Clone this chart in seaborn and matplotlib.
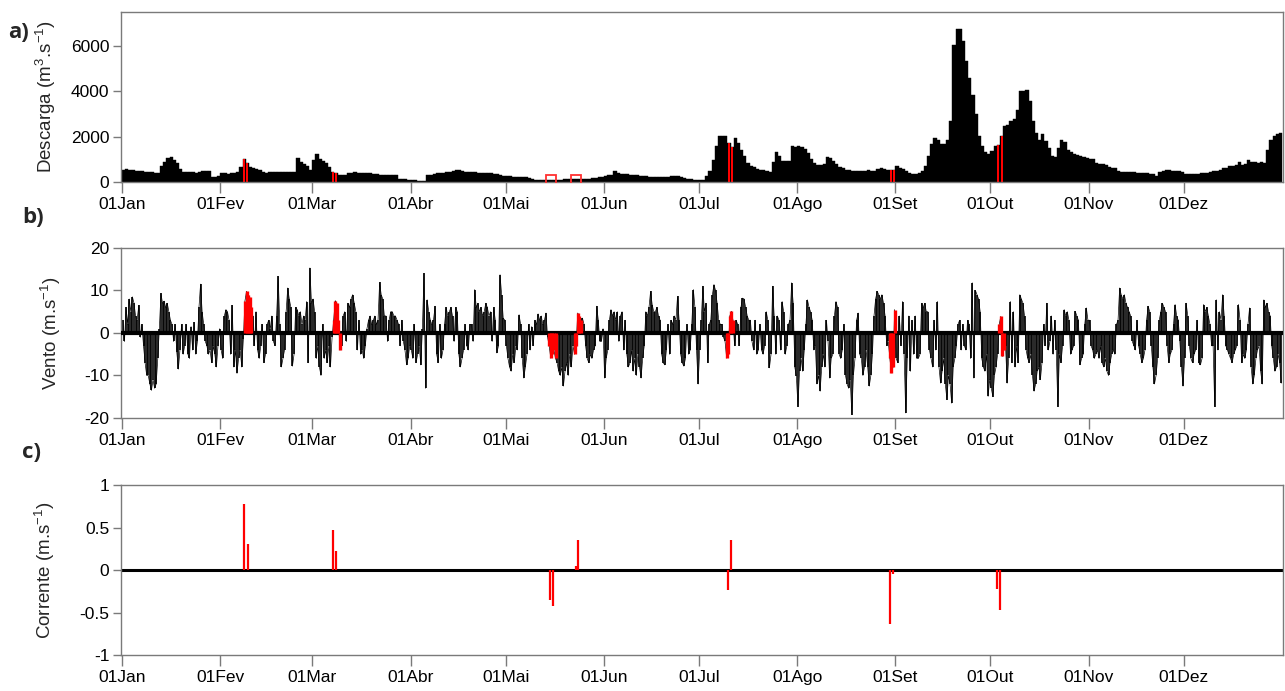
import numpy as np
import pandas as pd
import matplotlib
matplotlib.use("Agg")
import matplotlib.pyplot as plt
import seaborn as sns

# ---------------- data ----------------
month_ticks = [0, 31, 60, 91, 121, 152, 182, 213, 244, 274, 305, 335]
month_labels = ['01Jan', '01Fev', '01Mar', '01Abr', '01Mai', '01Jun',
                '01Jul', '01Ago', '01Set', '01Out', '01Nov', '01Dez']

# daily discharge (m3/s), day 0 = 01Jan
discharge = [
    530, 560, 540, 520, 500, 480, 465, 450, 435, 420, 400, 380, 700, 880, 1040, 1110,
    970, 820, 570, 460, 455, 440, 420, 415, 430, 470, 480, 470, 240, 240, 250,
    380, 380, 370, 400, 410, 420, 680, 1000, 820, 680, 600, 560, 540, 420, 400, 420,
    430, 430, 440, 440, 440, 450, 450, 440, 1070, 880, 780, 700, 530,
    970, 1220, 1000, 940, 820, 680, 455, 380, 310, 310, 320, 400, 410, 420, 410, 400,
    380, 390, 380, 370, 360, 330, 320, 320, 310, 300, 290, 150, 130, 120, 110,
    80, 70, 50, 45, 45, 300, 330, 360, 380, 390, 400, 420, 460, 500, 530, 510, 470,
    440, 430, 420, 420, 410, 400, 390, 380, 380, 370, 360, 330, 280,
    260, 250, 240, 230, 220, 210, 200, 190, 130, 80, 75, 75, 80, 90, 100, 100, 110,
    110, 120, 130, 130, 130, 140, 150, 150, 150, 150, 160, 180, 210, 230,
    280, 290, 300, 470, 380, 370, 360, 350, 320, 300, 290, 280, 270, 250, 220, 210,
    205, 210, 220, 230, 240, 250, 260, 250, 200, 170, 150, 140, 110, 100,
    100, 110, 250, 470, 985, 1570, 2010, 2040, 2040, 1700, 1530, 1940, 1720, 1420,
    1130, 840, 720, 650, 590, 545, 515, 485, 455, 870, 1310, 1140, 910, 910, 910, 1610, 1560,
    1580, 1540, 1470, 1280, 1000, 860, 760, 740, 800, 1100, 1080, 920, 780, 650, 600,
    540, 510, 500, 490, 480, 500, 490, 510, 500, 490, 560, 620, 560, 540, 515, 515,
    720, 640, 560, 470, 400, 370, 370, 380, 470, 690, 1160, 1690, 1940, 1840, 1690,
    1690, 1840, 2675, 6060, 6750, 6750, 6200, 5320, 4590, 3850, 3000, 2010, 1570, 1310, 1250,
    1350, 1570, 1650, 2010, 2450, 2530, 2675, 2780, 3190, 4000, 4000, 4070, 3560, 2675,
    2160, 1870, 2130, 1790, 1500, 1130, 1100, 1500, 1870, 1750, 1430, 1310, 1235, 1175,
    1130, 1090, 1060,
    1015, 1015, 840, 795, 795, 735, 650, 617, 600, 500, 440, 440, 425, 425, 420, 400,
    400, 380, 380, 350, 340, 280, 425, 500, 545, 520, 470, 500, 480, 440,
    370, 370, 350, 350, 350, 380, 380, 400, 425, 470, 470, 545, 617, 617, 690, 720,
    765, 865, 765, 810, 985, 865, 865, 840, 865, 840, 1400, 1840, 2010, 2130, 2160,
]
discharge_red_days = [38, 39, 66, 67, 191, 192, 242, 243, 276, 277]
square_days = [135.4, 143.1]
square_values = [80, 80]

# wind (m/s), two readings per day (morning, afternoon)
wind = [
    3, -2, 6, 2, 8, 5, 8.5, 7, 4, 3, 6.5, -1, 2, -3, -7, -10, -10, -12, -13.5, -11,
    -13, -12, -6, 1, 9.3, 7, 7.5, 6, 7, 5, 3, 2, -2, 2, -4.5, -8.5, -4, 2, -5, -3,
    2, -5, -6, 1.5, -4, 2.5, -5, -2, 6, 11.5, 5, 2, -2, -3, -5, -4, -7, -3, -5, -8,
    -3, 1,
    -4, -6, 4, 5.5, 5, 3, -5, 6.5, -8, -4, -9.5, -6, -4, -8, -1.5, 7.5, 9.8, 9,
    8.5, 6, 4, -3, 5, -4, -6, -3, 2, -7, -5, 2, 3, 1, 4, -2, -3, 4, 13.3, 2,
    -8, -6, -4, 5, 10.6, 8, 6, -7.8, -5, 6, 5.5, 4, 5, 2, 4, 3, 7.4, -7, 15.3, 7,
    8, 5, -6, -3, -8, -10, 2, -6, -4, -7, -3, -8, -1, 3, 7.6, 7, 3, -4, -3, 4,
    5, -2, 7, 6, 8, 9, 7, 5, -4, 3, -5, -4, -6, -3, 1, 3, 4, 2, 3, 4,
    2, 3, 11.9, 9, 8, 4, 4, -2, 3, 5, 5, 4, 4, 3, 2, -3, 3, -2, -4, -7.5,
    -6, -3,
    -4, -6, 2, -7, -5, -3, -7.5, 1, 14, -13, 7.8, 5, 3, 2, 3, 6.3, -5, -7, 2, -6,
    -4, 2, 6, 4, 5, 6, 4, -2, 6, 5, -5, -8, -6, -4, 2, -3, -4, 2, 2, -2,
    10.2, 6, 7, 5, 6, 4, 5, 7, 6, 4, 5, -2, 6, 3, -4.7, -3, 13.7, 9, 3.5, 3,
    -3, -6, -8, -9, -5, -7, -3, -4, 4.3, 2, -6, -10.6, -8, -5, 2, -4, 1.5, -3, 3, 2,
    4.5, 3, 4, 2, 3, 4.7, -1, -3, -5.9, -5, -4, -6, -7, -9, -10, -8, -12.5, -9, -7, -10,
    -5, -8, -3, -5, -3, 4.7, 4, 3, 3.5, 2, -3, -6, -7, -5, -6, -4, -3, 6.3, 3, -2,
    -2, 1,
    -10.6, -6, -4, 3, 5.5, 4, 5, 3, 5, -2, 4, 5, -4, 3, -5, -8, -7, -4, -9, -6,
    -10, -5, -8, -10.6, -6, -3, 5, 4, 6, 9.8, 6.7, 5, 5, 6, 4, 3, -5, -7, -7.5, -4,
    2, -5, 3, 2, 4, 3, 8.6, 3, -5, -7, -7.8, -6, 2, -5, -4, 2, 10.2, 6, -4, -12,
    -4, 3, 11, 5, 7, -7, 2, 3, 9, 11.4, 10, 7, 3, 2, 2, -1, -2, -5.9, -5, 4,
    5.1, 3, -3, 3, 2, -3, 6, 8.2, 8, 6, 4, 3, 3, -2, -4, 3, -5, -4, 2, -4,
    -5, -3, 5, 3, -8.2, -5, 11, 4, -5, 4, 3, -4, 7.4, 5, -5, -3, 2, 3, 11.8, 7,
    -8, -10.2,
    -17.3, -9, -6, -9, -4, 2, 7.8, 6, 5, 3, -4, -3, -12, -10, -13.7, -8, -5, -8, 3, -2,
    -10.6, -6, -5, 4, 7.4, 6, -5, -6, -4, 2, -10, -12, -13, -11, -19.2, -10, -6, 3, 4.7, -5,
    -6, -10, -8, -4, -8, -12.5, -10, -5, 4, 8, 9.8, 9, 8, 9, 7, 4, -3, -2, -6, -9.4,
    -8, 5.5,
    -6, -7, 4, -3, 7.4, -5, -18.8, -6, 4, -9, 3, -5, 4, -6, -6, -5, 7, 6, 7, 5,
    5, -4, -6, -8, 3, -4, 7.4, -8, -11.8, -9, -6, -12, -15.7, -10, -12, -16.5, -8, -6, -3, 2,
    3, -4, 2, -3, -4, 3, 2, -6, 11.8, -10.6, 10, 9, 8, 5, -6, -8, -9, -5, -14.9, -11,
    -13, -15, -10, -8, -5, 2, 3.9, -5.5, -4, -3, -11.8, -6, 7.4, -7, 5, -8, -3, -7, 9, 8,
    7, 4, -4, -6, -7, -5, -10, -13.7, -12, -9, -8, -11, -7, 2, -3, 7, -4, -2, 4, -5,
    3, -4, -17.3, -5, -7, -3, 5.5, 4, 5, 3, -5, -4, -3, 5.1, 4, 3, -7.5, -6, -5, 2,
    5.9, 3,
    3, -3, -4, -6, -5, -4, -6, -3, -7, -8, -6, -9, -10, -7, -5, -4, -5, 2, 3, 10.6,
    9, 8, 9, 7, 6, 5, 4, -2, -3, -4, 3, -3, -5, -7, -6, -4, 3, 6.3, 5, -3,
    -8, -12, -10, -6, 3, 5, 7, 6, 5, -3, -7, -5, -4, 2, 6.7, 4, 3, -2, -8, -12.5,
    -6, 7, 4, -3, -6, -7, -5, -4, 3, -7, -7.5, -6, 6.7, 5, 6, 4, 2, -3, -3, -17.3,
    7.8, -4, 5, 3, 9, 4, -3, -4, -5, -6, -7, -5, -4, -3, 6.7, 3, -7, -5, -6, -4,
    2, 5.9, -8, -12, -10, -6, -4, -3, -9, -12, 7.8, 6, 7, 5, 4, -3, -6, -9, -8, -5,
    -7, -11.8,
]
wind_red_spans = [(38.5, 41.2), (66.7, 68.8), (134.5, 137.0), (142.3, 145.0),
                  (190.3, 192.9), (242.1, 244.2), (276.5, 278.6)]

# current (m/s)
current_days = [38.5, 39.8, 66.5, 67.6, 135.1, 136.0, 143.2, 144.0,
                191.1, 192.1, 242.2, 243.2, 276.0, 277.0]
current_values = [0.78, 0.31, 0.47, 0.22, -0.35, -0.42, 0.05, 0.35,
                  -0.24, 0.35, -0.63, -0.05, -0.22, -0.47]

assert len(discharge) == 366 and len(wind) == 732

# ---------------- style ----------------
sns.set_theme(style="ticks")
plt.rcParams['font.family'] = ['Liberation Sans', 'DejaVu Sans']
plt.rcParams['mathtext.fontset'] = 'custom'
plt.rcParams['mathtext.rm'] = 'Liberation Sans'
plt.rcParams['mathtext.it'] = 'Liberation Sans:italic'
plt.rcParams['axes.unicode_minus'] = False

GRAY = '#7a7a7a'
FS = 12.5
FS_LABEL = 13.5

fig = plt.figure(figsize=(12.85, 6.91), dpi=100)
L, R = 0.0938, 0.9982
axA = fig.add_axes([L, 0.7366, R - L, 0.9826 - 0.7366])
axB = fig.add_axes([L, 0.3951, R - L, 0.6411 - 0.3951])
axC = fig.add_axes([L, 0.0521, R - L, 0.2981 - 0.0521])

# ---- panel a: discharge bars ----
df_q = pd.DataFrame({'day': np.arange(366) + 0.5, 'q': discharge})
sns.histplot(data=df_q, x='day', weights='q', binwidth=1, binrange=(0, 366),
             stat='count', color='black', alpha=1, edgecolor='black',
             linewidth=0.3, ax=axA)
df_red = df_q[df_q['day'].isin(np.array(discharge_red_days) + 0.5)]
sns.histplot(data=df_red, x='day', weights='q', binwidth=1, binrange=(0, 366),
             stat='count', color='#ff0000', alpha=1, edgecolor='none',
             linewidth=0, shrink=0.6, ax=axA)
axA.plot(square_days, square_values, ls='none', marker='s', ms=7, mfc='none',
         mec='#ff3030', mew=1.3, zorder=5)
axA.set_ylim(0, 7500)
axA.set_yticks([0, 2000, 4000, 6000])
axA.set_ylabel('Descarga (m$^3$.s$^{-1}$)', fontsize=FS_LABEL)

# ---- panel b: wind sticks ----
t_wind = np.arange(len(wind)) * 0.5 + 0.25
w = np.array(wind, dtype=float)
is_red = np.zeros(len(w), dtype=bool)
for a, b in wind_red_spans:
    is_red |= (t_wind >= a) & (t_wind <= b)
axB.vlines(t_wind[~is_red], 0, w[~is_red], color='black', lw=1.2)
sns.lineplot(x=t_wind, y=w, color='black', lw=0.5, ax=axB)
axB.vlines(t_wind[is_red], 0, w[is_red], color='#ff0000', lw=2.4, zorder=4)
axB.axhline(0, color='black', lw=3, zorder=3)
axB.set_ylim(-20, 20)
axB.set_yticks([20, 10, 0, -10, -20])
axB.set_ylabel('Vento (m.s$^{-1}$)', fontsize=FS_LABEL)

# ---- panel c: current ----
axC.axhline(0, color='black', lw=2.2, zorder=2)
axC.vlines(current_days, 0, current_values, color='#ff0000', lw=1.6, zorder=3)
axC.set_ylim(-1, 1)
axC.set_yticks([1, 0.5, 0, -0.5, -1])
axC.set_yticklabels(['1', '0.5', '0', '-0.5', '-1'])
axC.set_ylabel('Corrente (m.s$^{-1}$)', fontsize=FS_LABEL)

for ax, lx in ((axA, -0.0535), (axB, -0.0495), (axC, -0.055)):
    ax.set_xlim(-0.5, 366.2)
    ax.set_xticks(month_ticks)
    ax.set_xticklabels(month_labels)
    ax.set_xlabel('')
    for sp in ax.spines.values():
        sp.set_visible(True)
        sp.set_color(GRAY)
        sp.set_linewidth(1.0)
    ax.tick_params(axis='x', direction='out', length=8, width=1, color=GRAY,
                   labelsize=FS, pad=3, labelcolor='black')
    ax.tick_params(axis='y', direction='out', length=6, width=1, color=GRAY,
                   labelsize=FS, pad=2, labelcolor='black')
    ax.yaxis.set_label_coords(lx, 0.5)
    ax.set_facecolor('white')

fig.text(8 / 1285, 1 - 33 / 691, 'a)', fontsize=16, fontweight='bold',
         family=['Open Sans', 'DejaVu Sans'], va='center', ha='left')
fig.text(22 / 1285, 1 - 217 / 691, 'b)', fontsize=16, fontweight='bold',
         family=['Open Sans', 'DejaVu Sans'], va='center', ha='left')
fig.text(22 / 1285, 1 - 453 / 691, 'c)', fontsize=16, fontweight='bold',
         family=['Open Sans', 'DejaVu Sans'], va='center', ha='left')

fig.savefig('out.png', dpi=100, facecolor='white')
